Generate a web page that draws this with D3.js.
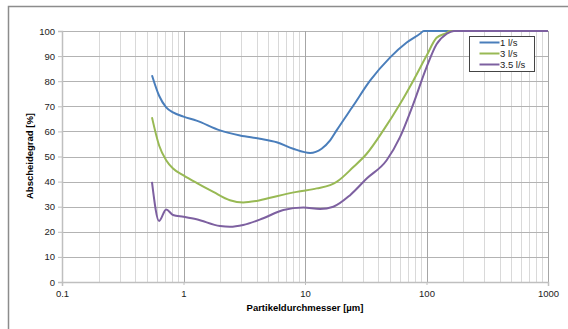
<!DOCTYPE html>
<html>
<head>
<meta charset="utf-8">
<style>
  body { margin: 0; background: #fff; }
  svg { display: block; font-family: "Liberation Sans", Arial, sans-serif; }
</style>
</head>
<body>
<div id="chart"></div>
<script src="https://cdn.jsdelivr.net/npm/d3@7"></script>
<script>
// particle diameter [µm] and separation efficiency [%] per flow rate
const x1 = [0.55, 0.63, 0.72, 0.82, 1.0, 1.28, 2.0, 2.92, 4.26, 5.85, 8.0, 11.0, 13.7, 16.1, 18.2, 25, 34.3, 50, 68.7, 88.4, 95, 1000];
const y1 = [82.4, 74.2, 69.6, 67.6, 65.9, 64.3, 60.4, 58.4, 57.1, 55.7, 53.1, 51.4, 53.1, 56.4, 60.4, 70.3, 80.2, 89.4, 95.4, 98.9, 100, 100];

const x2 = [0.55, 0.63, 0.72, 0.82, 1.0, 1.28, 1.76, 2.41, 3.1, 4.0, 5.85, 8.55, 12.5, 16.1, 18.2, 25, 32.2, 44.1, 60.5, 77.8, 100, 121, 147, 155, 1000];
const y2 = [65.6, 54.4, 48.5, 45.2, 42.5, 39.5, 35.9, 32.6, 31.7, 32.3, 34.2, 35.9, 37.3, 38.6, 39.9, 45.8, 51.1, 60.4, 70.9, 80.2, 90.1, 97.3, 99.3, 100, 100];

const x3 = [0.55, 0.63, 0.72, 0.82, 1.0, 1.28, 2.0, 2.41, 3.1, 4.54, 6.63, 9.7, 13.3, 17.1, 23.5, 32.2, 47, 60.5, 77.8, 100, 121, 147, 168, 1000];
const y3 = [39.9, 24.3, 28.9, 26.7, 26.0, 25.0, 22.3, 22.0, 22.7, 25.4, 28.7, 29.7, 29.1, 30.0, 34.6, 41.2, 48.5, 57.7, 70.9, 85.5, 94.7, 98.9, 100, 100];

const seriesNames = ["1 l/s", "3 l/s", "3.5 l/s"];
const seriesColors = ["#4a7ebb", "#98b954", "#7d60a0"];
const xTicks = [0.1, 1, 10, 100, 1000];
const yTicks = [0, 10, 20, 30, 40, 50, 60, 70, 80, 90, 100];

const W = 568, H = 329;
const margin = { top: 31, right: 20, bottom: 47, left: 62 };
const width = 548 - margin.left;
const height = 282 - margin.top;

const root = d3.select("#chart").append("svg")
  .attr("width", W).attr("height", H);

// outer chart frame
root.append("rect")
  .attr("x", 8.5).attr("y", 6.5)
  .attr("width", 700).attr("height", 500)
  .attr("fill", "none").attr("stroke", "#8c8c8c").attr("stroke-width", 1.5);

const svg = root.append("g")
  .attr("transform", `translate(${margin.left},${margin.top})`);

const x = d3.scaleLog().domain([0.1, 1000]).range([0, width]);
const y = d3.scaleLinear().domain([0, 100]).range([height, 0]);

// minor vertical grid
const minor = [];
for (let e = -1; e < 3; e++) {
  for (let m = 2; m <= 9; m++) minor.push(m * Math.pow(10, e));
}
svg.append("g").selectAll("line").data(minor).join("line")
  .attr("x1", d => Math.round(x(d)) + 0.5).attr("x2", d => Math.round(x(d)) + 0.5)
  .attr("y1", 0).attr("y2", height)
  .attr("stroke", "#d9d9d9").attr("stroke-width", 1);

// horizontal grid
svg.append("g").selectAll("line").data(yTicks.slice(1)).join("line")
  .attr("x1", 0).attr("x2", width)
  .attr("y1", d => Math.round(y(d)) + 0.5).attr("y2", d => Math.round(y(d)) + 0.5)
  .attr("stroke", "#b3b3b3").attr("stroke-width", 1);

// major vertical grid
svg.append("g").selectAll("line").data(xTicks.slice(1)).join("line")
  .attr("x1", d => Math.round(x(d)) + 0.5).attr("x2", d => Math.round(x(d)) + 0.5)
  .attr("y1", 0).attr("y2", height)
  .attr("stroke", "#a6a6a6").attr("stroke-width", 1);

// axes
const xAxis = d3.axisBottom(x).tickValues(xTicks).tickFormat(d3.format("")).tickSize(4).tickPadding(4);
const yAxis = d3.axisLeft(y).tickValues(yTicks).tickSize(4).tickPadding(3);

const gx = svg.append("g").attr("transform", `translate(0,${height})`).call(xAxis);
const gy = svg.append("g").call(yAxis);
[gx, gy].forEach(g => {
  g.select(".domain").attr("stroke", "#bfbfbf").attr("stroke-width", 1.5);
  g.selectAll(".tick line").attr("stroke", "#bfbfbf");
  g.selectAll("text").attr("font-size", 9.5).attr("fill", "#222")
    .attr("font-family", "Liberation Sans, Arial, sans-serif");
});
gx.selectAll(".tick line").attr("y2", 0).attr("y1", 3);

// series
const line = d3.line()
  .x(d => x(d[0])).y(d => y(d[1]))
  .curve(d3.curveMonotoneX);

const series = [[x1, y1], [x2, y2], [x3, y3]];
series.forEach((s, i) => {
  const pts = s[0].map((v, j) => [v, s[1][j]]);
  svg.append("path").datum(pts)
    .attr("d", line)
    .attr("fill", "none")
    .attr("stroke", seriesColors[i])
    .attr("stroke-width", 2)
    .attr("stroke-linejoin", "round");
});

// axis titles
root.append("text")
  .attr("x", 305).attr("y", 311)
  .attr("text-anchor", "middle")
  .attr("font-size", 9.5).attr("font-weight", "bold")
  .text("Partikeldurchmesser [µm]");

root.append("text")
  .attr("transform", "translate(33,156) rotate(-90)")
  .attr("text-anchor", "middle")
  .attr("font-size", 9.5).attr("font-weight", "bold")
  .text("Abscheidegrad [%]");

// legend
const lg = root.append("g").attr("transform", "translate(469.5,36.5)");
lg.append("rect").attr("width", 65).attr("height", 35)
  .attr("fill", "#fff").attr("stroke", "#444").attr("stroke-width", 1);
seriesNames.forEach((n, i) => {
  const yy = 6 + i * 11;
  lg.append("line").attr("x1", 10).attr("x2", 30).attr("y1", yy).attr("y2", yy)
    .attr("stroke", seriesColors[i]).attr("stroke-width", 2);
  lg.append("text").attr("x", 30.5).attr("y", yy + 3.5)
    .attr("font-size", 9.5).attr("fill", "#222").text(n);
});
</script>
</body>
</html>
